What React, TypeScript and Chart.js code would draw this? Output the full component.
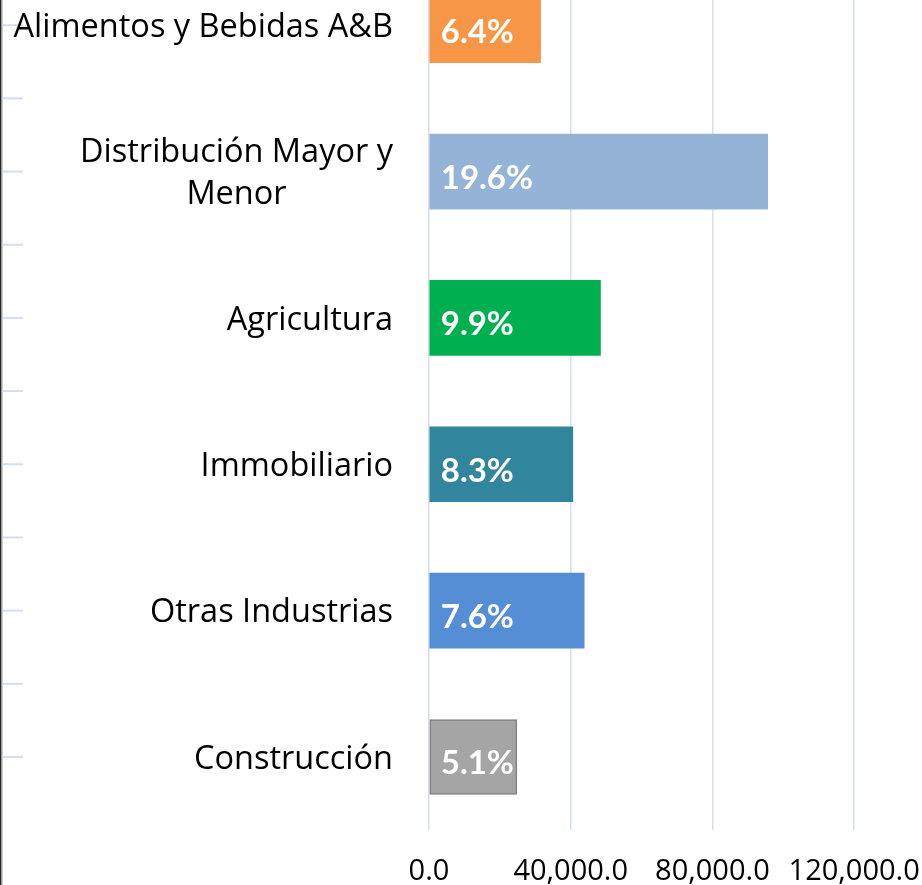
import React, { useEffect, useRef } from 'react';
import { Chart, registerables } from 'chart.js';

Chart.register(...registerables);

// ---- data ----
const categories: string[] = [
  'Alimentos y Bebidas A&B',
  'Distribución Mayor y\nMenor',
  'Agricultura',
  'Immobiliario',
  'Otras Industrias',
  'Construcción',
];
const values: number[] = [31500, 95600, 48400, 40600, 43800, 24800];
const shares: number[] = [6.4, 19.6, 9.9, 8.3, 7.6, 5.1];
const barColors: string[] = ['#F79646', '#95B3D7', '#00B050', '#31859C', '#558ED5', '#A5A5A5'];
const barBorders: string[] = ['#F79646', '#95B3D7', '#00B050', '#31859C', '#558ED5', '#7F7F7F'];
const barBorderWidths: number[] = [0, 0, 0, 0, 0, 1.5];
const tickValues: number[] = [0, 40000, 80000, 120000];
const axisMax = 140000;

const fmt = (v: number) => {
  const s = Number(v).toFixed(1);
  const [i, d] = s.split('.');
  return i.replace(/\B(?=(\d{3})+(?!\d))/g, ',') + '.' + d;
};

const decorPlugin = {
  id: 'decor',
  afterDatasetsDraw(chart: any) {
    const ctx: CanvasRenderingContext2D = chart.ctx;
    const y = chart.scales.y;
    const meta = chart.getDatasetMeta(0);
    const n = categories.length;
    const band = y.getPixelForValue(1) - y.getPixelForValue(0);
    ctx.save();

    // left axis line
    ctx.fillStyle = '#262626';
    ctx.fillRect(0, 0, 1.5, chart.height);
    ctx.fillStyle = '#a0a0a0';
    ctx.fillRect(1.5, 0, 1, chart.height);

    // tick marks at category centres and boundaries
    ctx.strokeStyle = '#D3DEF1';
    ctx.lineWidth = 2;
    for (let i = 0; i < n; i++) {
      const c = y.getPixelForValue(i);
      const marks = i < n - 1 ? [c, c + band / 2] : [c];
      for (const m of marks) {
        ctx.beginPath();
        ctx.moveTo(2.5, m);
        ctx.lineTo(23, m);
        ctx.stroke();
      }
    }

    // category labels
    const catSize = 32.5;
    ctx.font = `${catSize}px "Open Sans"`;
    ctx.fillStyle = '#000000';
    ctx.textAlign = 'center';
    ctx.textBaseline = 'alphabetic';
    const right = 393;
    const lineGap = 42;
    for (let i = 0; i < n; i++) {
      const c = y.getPixelForValue(i);
      const lines = categories[i].split('\n');
      const bw = Math.max(...lines.map((l) => ctx.measureText(l).width));
      const cx = right - bw / 2;
      lines.forEach((l, k) => {
        const lc = c + (k - (lines.length - 1) / 2) * lineGap;
        ctx.fillText(l, cx, lc + 0.357 * catSize);
      });
    }

    // data labels inside base
    const labSize = 33;
    ctx.font = `bold ${labSize}px Lato`;
    ctx.fillStyle = '#FFFFFF';
    ctx.textAlign = 'left';
    meta.data.forEach((el: any, i: number) => {
      const text = shares[i].toFixed(1) + '%';
      ctx.fillText(text, el.base + 11, el.y + 5.5 + 0.36 * labSize);
    });

    ctx.restore();
  },
};

export default function App() {
  const ref = useRef<HTMLCanvasElement | null>(null);
  useEffect(() => {
    if (!ref.current) return;
    const chart = new Chart(ref.current, {
      type: 'bar',
      data: {
        labels: categories,
        datasets: [
          {
            data: values,
            backgroundColor: barColors,
            borderColor: barBorders,
            borderWidth: barBorderWidths,
            borderSkipped: false,
            barThickness: 75,
          },
        ],
      },
      options: {
        indexAxis: 'y',
        animation: false,
        responsive: false,
        layout: { padding: { left: 429, right: 0, top: 0, bottom: 0 } },
        plugins: {
          legend: { display: false },
          tooltip: { enabled: false },
        },
        scales: {
          y: { display: false },
          x: {
            min: 0,
            max: axisMax,
            border: { display: false },
            grid: { color: '#D5DFF0', lineWidth: 1.5, drawTicks: false },
            afterBuildTicks: (scale: any) => {
              scale.ticks = tickValues.map((v) => ({ value: v }));
            },
            afterFit: (scale: any) => {
              scale.paddingLeft = 0;
              scale.paddingRight = 0;
            },
            ticks: {
              padding: 24,
              color: '#000000',
              font: { family: '"Open Sans"', size: 29 },
              maxRotation: 0,
              autoSkip: false,
              callback: (v: any) => fmt(Number(v)),
            },
          },
        },
      },
      plugins: [decorPlugin],
    });
    return () => chart.destroy();
  }, []);

  return (
    <div
      style={{
        position: 'fixed',
        left: 0,
        top: 0,
        width: 922,
        height: 885,
        overflow: 'hidden',
        background: '#ffffff',
      }}
    >
      <canvas
        ref={ref}
        width={925}
        height={961}
        style={{ position: 'absolute', left: 0, top: -48, width: 925, height: 961 }}
      />
    </div>
  );
}
